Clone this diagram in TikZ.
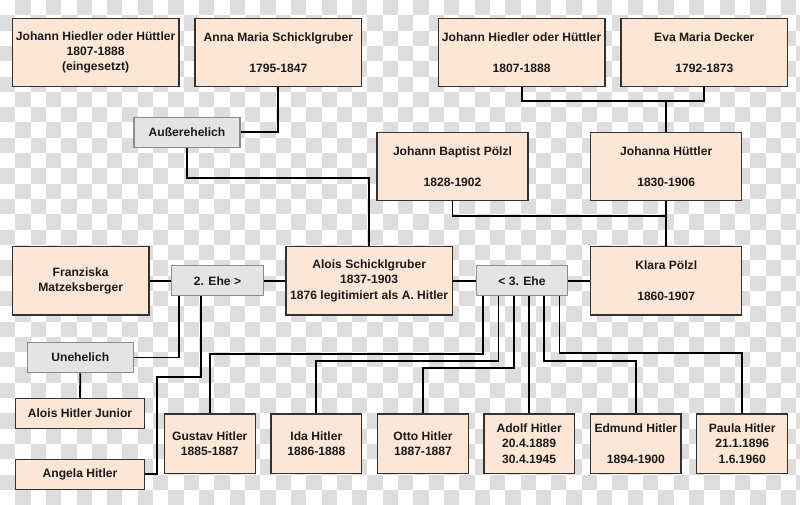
\documentclass[tikz,border=0pt]{standalone}
\usepackage{fontspec}
\setmainfont{Liberation Sans}
\usetikzlibrary{calc}
\definecolor{peach}{RGB}{252,230,214}
\definecolor{graybox}{RGB}{228,228,228}
\definecolor{grayborder}{RGB}{140,140,140}
\definecolor{bord}{RGB}{50,50,50}
\definecolor{txt}{RGB}{26,26,26}
\definecolor{checker}{RGB}{221,221,221}
\tikzset{
  person/.style={draw=bord, fill=peach, line width=1.1pt, inner sep=0pt, align=center,
    text=txt, font=\bfseries\fontsize{12.1}{15.3}\selectfont},
  relbox/.style={draw=grayborder, fill=graybox, line width=1.1pt, inner sep=0pt, align=center,
    text=txt, font=\bfseries\fontsize{12.1}{15.3}\selectfont},
  conn/.style={draw=black, line width=1.8pt}
}
\begin{document}
\begin{tikzpicture}[x=1pt,y=-1pt]
\useasboundingbox (0,0) rectangle (800,505);
% checkerboard background
\begin{scope}
\clip (0,0) rectangle (800,505);
\fill[white] (0,0) rectangle (800,505);
\foreach \i in {0,...,32}{
  \foreach \j in {0,...,52}{
    \pgfmathtruncatemacro\chkpar{mod(\i+\j,2)}
    \ifnum\chkpar=1
      \fill[checker] ({\j*15.31},{\i*15.31}) rectangle ++(15.31,15.31);
    \fi
  }
}
\end{scope}

% boxes
\node[person, minimum width=166.7pt, minimum height=68.4pt] (jh1) at (95.65,52.5) {Johann Hiedler oder Hüttler\\1807-1888\\(eingesetzt)};
\node[person, minimum width=166.7pt, minimum height=68.4pt] (anna) at (278.35,52.5) {Anna Maria Schicklgruber\\\strut\\1795-1847};
\node[person, minimum width=166.7pt, minimum height=68.4pt] (jh2) at (521.65,52.5) {Johann Hiedler oder Hüttler\\\strut\\1807-1888};
\node[person, minimum width=166.7pt, minimum height=68.4pt] (eva) at (704.35,52.5) {Eva Maria Decker\\\strut\\1792-1873};
\node[relbox, minimum width=106pt, minimum height=30pt] (auss) at (187,132.3) {Außerehelich};
\node[person, minimum width=151pt, minimum height=67.8pt] (jbp) at (452.5,166.6) {Johann Baptist Pölzl\\\strut\\1828-1902};
\node[person, minimum width=151pt, minimum height=67.8pt] (johanna) at (666.2,166.6) {Johanna Hüttler\\\strut\\1830-1906};
\node[person, minimum width=136.7pt, minimum height=68.3pt] (franz) at (80.65,280.85) {Franziska\\Matzeksberger};
\node[relbox, minimum width=91.6pt, minimum height=30pt] (ehe2) at (217.5,280.85) {2. Ehe >};
\node[person, minimum width=166.3pt, minimum height=68.3pt] (alois) at (369.15,280.85) {Alois Schicklgruber\\1837-1903\\1876 legitimiert als A. Hitler};
\node[relbox, minimum width=90.6pt, minimum height=30pt] (ehe3) at (522,280.85) {< 3. Ehe};
\node[person, minimum width=151pt, minimum height=68.3pt] (klara) at (666.2,280.85) {Klara Pölzl\\\strut\\1860-1907};
\node[relbox, minimum width=106pt, minimum height=30.4pt] (uneh) at (80.3,357.5) {Unehelich};
\node[person, minimum width=128.6pt, minimum height=30pt] (ajr) at (80,413.3) {Alois Hitler Junior};
\node[person, minimum width=128.6pt, minimum height=30pt] (angela) at (80,474.3) {Angela Hitler};
\node[person, minimum width=91pt, minimum height=59.3pt] (gustav) at (209.8,443.65) {Gustav Hitler\\1885-1887};
\node[person, minimum width=90.7pt, minimum height=59.3pt] (ida) at (316.35,443.65) {Ida Hitler\\1886-1888};
\node[person, minimum width=90.6pt, minimum height=59.3pt] (otto) at (423,443.65) {Otto Hitler\\1887-1887};
\node[person, minimum width=90.3pt, minimum height=59.3pt] (adolf) at (529.15,443.65) {Adolf Hitler\\20.4.1889\\30.4.1945};
\node[person, minimum width=90.3pt, minimum height=59.3pt] (edmund) at (635.85,443.65) {Edmund Hitler\\\strut\\1894-1900};
\node[person, minimum width=91pt, minimum height=59.3pt] (paula) at (742.2,443.65) {Paula Hitler\\21.1.1896\\1.6.1960};

% helper coordinates
\coordinate (ya) at (0,177.7);
\coordinate (yb) at (0,101);
\coordinate (yc) at (0,215.7);
\coordinate (c1) at (156.7,376.7);
\coordinate (yg) at (0,354);
\coordinate (yi) at (0,360.7);
\coordinate (yo) at (0,367.7);
\coordinate (yp) at (0,352.7);
\coordinate (f1) at ($(ehe2.south west)+(7.6,0)$);
\coordinate (f2) at ($(ehe2.south west)+(30,0)$);
\coordinate (e1) at ($(ehe3.south west)+(6.6,0)$);
\coordinate (e2) at ($(ehe3.south west)+(22.3,0)$);
\coordinate (e3) at ($(ehe3.south west)+(37.6,0)$);
\coordinate (e4) at ($(ehe3.south west)+(52.45,0)$);
\coordinate (e5) at ($(ehe3.south west)+(67.6,0)$);
\coordinate (e6) at ($(ehe3.south west)+(83.3,0)$);

% connectors
\draw[conn] (anna.south) |- (auss.east);
\draw[conn] (auss.south) -- (auss.south |- ya) -| (alois.north);
\draw[conn] (jh2.south) -- (jh2.south |- yb) -| (eva.south);
\draw[conn] (johanna.north |- yb) -- (johanna.north);
\draw[conn] (jbp.south) -- (jbp.south |- yc) -| (klara.north);
\draw[conn] (johanna.south) -- (klara.north);
\draw[conn] (franz.east) -- (ehe2.west);
\draw[conn] (ehe2.east) -- (alois.west);
\draw[conn] (alois.east) -- (ehe3.west);
\draw[conn] (ehe3.east) -- (klara.west);
\draw[conn] (f1) |- (uneh.east);
\draw[conn] (uneh.south) -- (ajr.north);
\draw[conn] (f2) |- (c1) |- (angela.east);
\draw[conn] (e1) -- (e1 |- yg) -| (gustav.north);
\draw[conn] (e2) -- (e2 |- yi) -| (ida.north);
\draw[conn] (e3) -- (e3 |- yo) -| (otto.north);
\draw[conn] (e4) -- (e4 |- adolf.north);
\draw[conn] (e5) -- (e5 |- yi) -| (edmund.north);
\draw[conn] (e6) -- (e6 |- yp) -| (paula.north);
\end{tikzpicture}
\end{document}
